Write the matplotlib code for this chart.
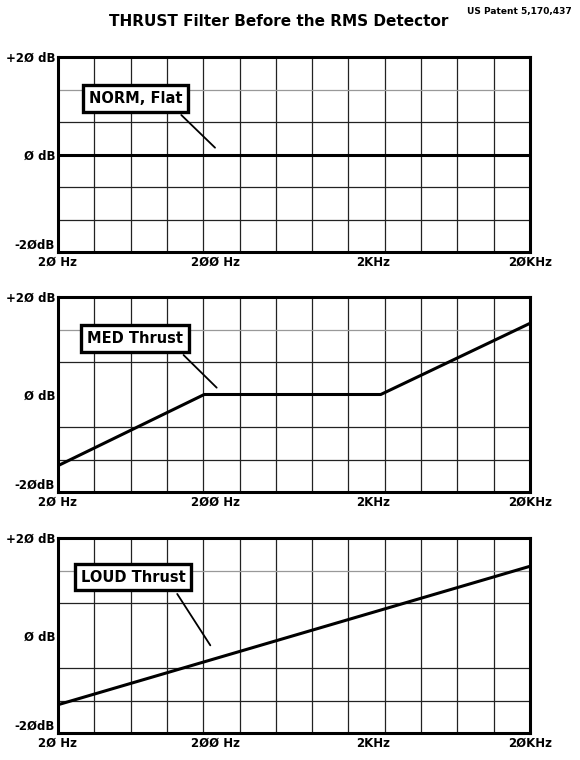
import matplotlib
matplotlib.use("Agg")
import matplotlib.pyplot as plt
import numpy as np

freq_norm = [20, 20000]
db_norm = [0, 0]
freq_med = [20, 170, 2250, 20000]
db_med = [-14.6, 0, 0, 14.6]
freq_loud = [20, 20000]
db_loud = [-14.2, 14.2]
labels = ["NORM, Flat", "MED Thrust", "LOUD Thrust"]
label_pos = [(62, 11.5), (62, 11.5), (60, 12)]
leader_end = [(205, 1), (210, 1), (190, -2.5)]
leader_start = [(118, 8.5), (122, 8.5), (112, 9)]
xtick_vals = [20, 200, 2000, 20000]
xtick_labels = ["2Ø Hz", "2ØØ Hz", "2KHz", "2ØKHz"]
ytick_vals = [-20, 0, 20]
ytick_labels = ["-2ØdB", "Ø dB", "+2Ø dB"]

fig = plt.figure(figsize=(5.8, 7.6), dpi=100)
fig.text(0.48, 0.972, "THRUST Filter Before the RMS Detector", ha="center", va="center",
         fontsize=11, fontweight="bold")
fig.text(0.985, 0.985, "US Patent 5,170,437", ha="right", va="center", fontsize=6.5, fontweight="bold")

tops = [57, 297, 538]
data = [(freq_norm, db_norm), (freq_med, db_med), (freq_loud, db_loud)]
for i, (f, d) in enumerate(data):
    top = tops[i]
    ax = fig.add_axes([58/580, 1 - (top+195)/760, 472/580, 195/760])
    ax.set_xscale("log")
    ax.set_xlim(20, 20000)
    ax.set_ylim(-20, 20)
    for k in range(1, 13):
        ax.axvline(20 * 10**(k*3/13), color="#222222", lw=0.9, zorder=1)
    for yy in np.linspace(-20, 20, 7)[1:-1]:
        if abs(yy) > 0.1:
            c = "#999999" if yy > 10 else "#222222"
            ax.axhline(yy, color=c, lw=0.9, zorder=1)
    ax.plot(f, d, color="black", lw=2.2, zorder=3)
    for s in ax.spines.values():
        s.set_linewidth(2.2)
    ax.set_xticks(xtick_vals)
    ax.set_xticklabels(xtick_labels, fontsize=8.5, fontweight="bold")
    ax.minorticks_off()
    ax.set_yticks(ytick_vals)
    ax.set_yticklabels(ytick_labels, fontsize=8.5, fontweight="bold")
    ax.get_yticklabels()[0].set_va("bottom")
    ax.tick_params(axis="y", length=0, pad=2)
    ax.tick_params(axis="x", length=0, pad=3)
    ax.annotate("", xy=leader_end[i], xytext=leader_start[i],
                arrowprops=dict(arrowstyle="-", color="black", lw=1.3), zorder=4)
    ax.text(label_pos[i][0], label_pos[i][1], labels[i], fontsize=10.5, fontweight="bold",
            va="center", ha="center", zorder=5,
            bbox=dict(boxstyle="square,pad=0.4", fc="white", ec="black", lw=2.4))

fig.savefig("out.png", dpi=100)
